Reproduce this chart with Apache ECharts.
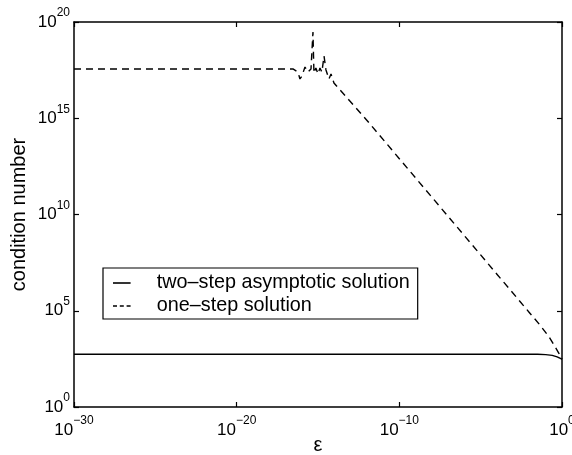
<!DOCTYPE html>
<html>
<head>
<meta charset="utf-8">
<script src="https://cdn.jsdelivr.net/npm/echarts@6/dist/echarts.min.js"></script>
<style>
html,body{margin:0;padding:0;background:#fff;}
#c{width:572px;height:455px;}
</style>
</head>
<body>
<div id="c"></div>
<script>
// values stored as log10 exponents (log-log plot)
const xTickExps = [-30, -20, -10, 0];
const yTickExps = [0, 5, 10, 15, 20];

const twoStepEpsExp  = [-30, -5, -1.5, -1, -0.6, -0.3, -0.1, 0];
const twoStepCondExp = [2.74, 2.74, 2.74, 2.72, 2.68, 2.6, 2.52, 2.48];

const oneStepEpsExp  = [-30, -16.54, -16.23, -16.11, -15.99, -15.80, -15.62, -15.43, -15.31, -15.25, -15.13, -15.00, -14.88, -14.76, -14.63, -14.51, -14.33, -14.20, -14.02, -12, -10, -8, -6, -4, -2, -1.36, -0.8, -0.44, -0.2, 0];
const oneStepCondExp = [17.56, 17.56, 17.40, 17.04, 17.19, 17.66, 17.40, 17.56, 19.48, 17.35, 17.61, 17.30, 17.61, 17.40, 18.23, 17.51, 17.04, 17.30, 16.83, 14.9, 12.9, 10.9, 8.9, 6.9, 4.9, 4.26, 3.65, 3.15, 2.8, 2.5];

const seriesNames = ['two–step asymptotic solution', 'one–step solution'];

const FONT = 'Liberation Sans, Arial, Helvetica, sans-serif';

function pairs(xs, ys) { return xs.map((x, i) => [x, ys[i]]); }

const powRich = {
  b: { fontSize: 17, fontFamily: FONT, color: '#000', lineHeight: 30, verticalAlign: 'middle' },
  s: { fontSize: 12, fontFamily: FONT, color: '#000', lineHeight: 12, verticalAlign: 'top' }
};
function powLabel(v) { return '{b|10}{s|' + String(v).replace('-', '−') + '}'; }

const axisLine = { show: true, onZero: false, lineStyle: { color: '#000', width: 1.5 } };
const axisTick = { show: true, inside: true, length: 5, lineStyle: { color: '#000', width: 1.2 } };

const solidIcon = 'path://M0,0H22V2H0Z';
const dashIcon = 'path://M0,0H5V2H0Z M8.5,0H13.5V2H8.5Z M17,0H22V2H17Z';

const chart = echarts.init(document.getElementById('c'), null, { renderer: 'canvas' });
chart.setOption({
  animation: false,
  backgroundColor: '#fff',
  grid: { left: 74, right: 10, top: 22, bottom: 48, containLabel: false, outerBoundsMode: 'none' },
  legend: {
    orient: 'vertical',
    left: 103, top: 268,
    data: [
      { name: seriesNames[0], icon: solidIcon },
      { name: seriesNames[1], icon: dashIcon }
    ],
    backgroundColor: '#fff',
    borderColor: '#000', borderWidth: 1.2,
    padding: [5, 8, 3, 10],
    itemWidth: 22, itemHeight: 1.6, itemGap: 3,
    itemStyle: { color: '#000', borderWidth: 0 },
    textStyle: { fontSize: 19.8, fontFamily: FONT, color: '#000', padding: [0, 0, 0, 19] }
  },
  xAxis: [
    {
      type: 'value', min: -30, max: 0, interval: 10, position: 'bottom',
      name: 'ε', nameLocation: 'middle', nameGap: 28, nameMoveOverlap: false,
      nameTextStyle: { fontSize: 20, fontFamily: FONT, color: '#000' },
      axisLine: axisLine, axisTick: axisTick, splitLine: { show: false },
      axisLabel: { margin: 8, formatter: powLabel, rich: powRich, showMaxLabel: true, showMinLabel: true }
    },
    {
      type: 'value', min: -30, max: 0, interval: 10, position: 'top',
      axisLine: axisLine, axisTick: axisTick, splitLine: { show: false },
      axisLabel: { show: false }
    }
  ],
  yAxis: [
    {
      type: 'value', min: 0, max: 20, interval: 5, position: 'left',
      name: 'condition number', nameLocation: 'middle', nameGap: 45, nameMoveOverlap: false,
      nameTextStyle: { fontSize: 20, fontFamily: FONT, color: '#000' },
      axisLine: axisLine, axisTick: axisTick, splitLine: { show: false },
      axisLabel: { margin: 4, formatter: powLabel, rich: powRich }
    },
    {
      type: 'value', min: 0, max: 20, interval: 5, position: 'right',
      axisLine: axisLine, axisTick: axisTick, splitLine: { show: false },
      axisLabel: { show: false }
    }
  ],
  series: [
    {
      name: seriesNames[0], type: 'line', symbol: 'none',
      data: pairs(twoStepEpsExp, twoStepCondExp),
      lineStyle: { color: '#000', width: 1.4, type: 'solid' },
      itemStyle: { color: '#000' }
    },
    {
      name: seriesNames[1], type: 'line', symbol: 'none',
      data: pairs(oneStepEpsExp, oneStepCondExp),
      lineStyle: { color: '#000', width: 1.4, type: [7, 5] },
      itemStyle: { color: '#000' }
    }
  ]
});
</script>
</body>
</html>
